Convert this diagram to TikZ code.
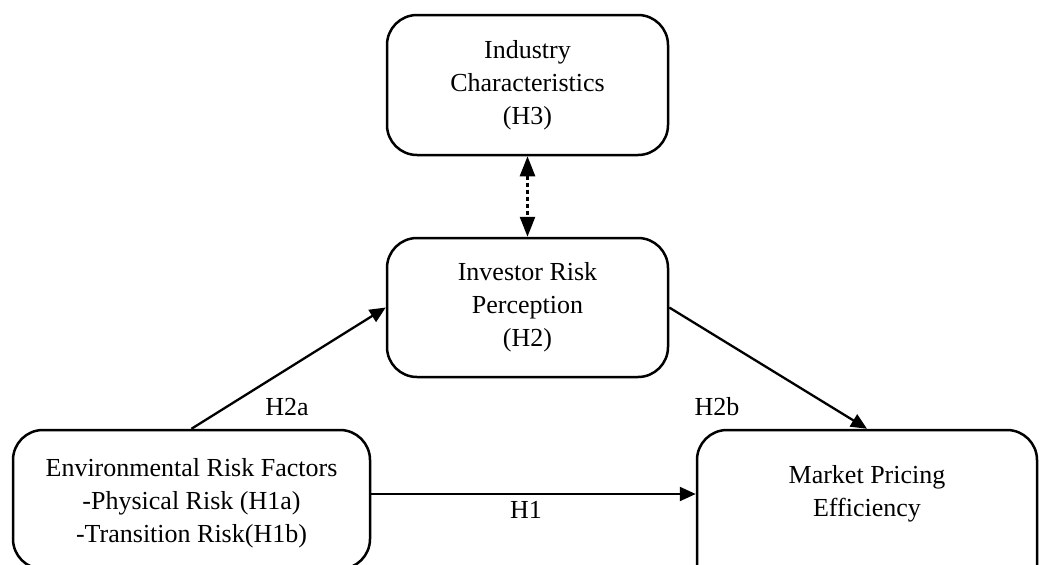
\documentclass[tikz,border=0pt]{standalone}
\usepackage{fontspec}
\setmainfont{Liberation Serif}
\usetikzlibrary{arrows.meta}
\begin{document}
\begin{tikzpicture}[x=1pt,y=-1pt,
  box/.style={draw, line width=2.5pt, rounded corners=30pt, inner sep=0pt, align=center,
    font=\fontsize{26}{33}\selectfont},
  txt/.style={inner sep=0pt, align=center, font=\fontsize{26}{33}\selectfont},
  arr/.style={line width=2.3pt, -{Triangle[length=16pt,width=14pt]}},
  dotarr/.style={line width=2.6pt, dash pattern=on 4pt off 3pt,
    {Triangle[length=20pt,width=15pt]}-{Triangle[length=20pt,width=15pt]}}]
\useasboundingbox (0,0) rectangle (1039,565);
\clip (0,0) rectangle (1039,565);
\node[box, minimum width=281pt, minimum height=140pt] (ind) at (527.5,85)
  {Industry\\Characteristics\\(H3)};
\node[box, minimum width=281pt, minimum height=139pt] (irp) at (527.5,307.5)
  {Investor Risk\\Perception\\(H2)};
\node[box, minimum width=357pt, minimum height=139pt] (env) at (191.5,499.5) {};
\node[txt] (envtxt) at (191.5,503)
  {Environmental Risk Factors\\-Physical Risk (H1a)\\-Transition Risk(H1b)};
\node[box, minimum width=340pt, minimum height=170pt] (mpe) at (867,515) {};
\node[txt] (mpetxt) at (867,494) {Market Pricing\\Efficiency};
\draw[dotarr] (ind.south) -- (irp.north);
\draw[arr] (env.north) -- (irp.west);
\draw[arr] (irp.east) -- (mpe.north);
\draw[arr] (env.east |- mpetxt) -- (mpe.west |- mpetxt);
\node[txt] (h2a) at (287,407) {H2a};
\node[txt] (h2b) at (717,407) {H2b};
\node[txt] (h1) at (526,510) {H1};
\end{tikzpicture}
\end{document}
